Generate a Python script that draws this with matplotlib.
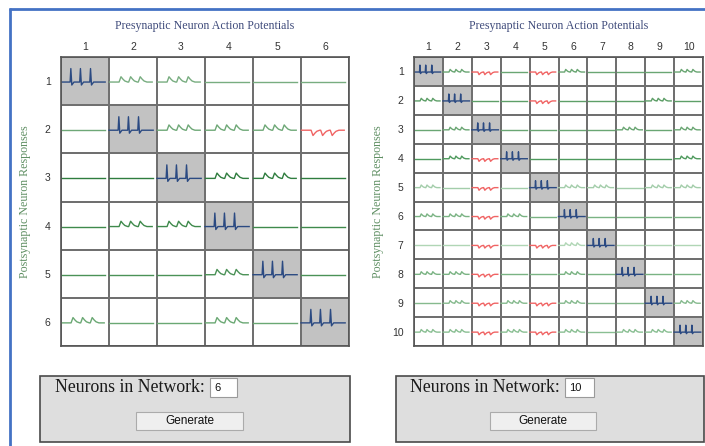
import matplotlib
matplotlib.use('Agg')
import matplotlib.pyplot as plt
from matplotlib.patches import Rectangle
from matplotlib.colors import ListedColormap
import numpy as np

# --- data: connection type per cell (row = postsynaptic, col = presynaptic) ---
# S = own action potential, E = excitatory PSP, I = inhibitory PSP, 0 = no response
NET_6 = [
    "SEE000",
    "0SEEEI",
    "00SEE0",
    "0EES00",
    "000ES0",
    "E00E0S",
]
NET_10 = [
    "SEI0IE000E",
    "ES00I000E0",
    "0ES0000E0E",
    "0EIS00000E",
    "E0I0SEE0EE",
    "EEIE0S0000",
    "00I0IES000",
    "EEI00E0S00",
    "0EIEIE00SE",
    "EEIEIE0EES",
]
ROW_GREENS_6 = ['#78ad80', '#6ea877', '#2f7d3f', '#3f8a4c', '#4b9257', '#6aa873']
ROW_GREENS_10 = ['#6aa673', '#5e9f68', '#6aa673', '#4f9a5e', '#a3cdaa',
                 '#7ab383', '#b0d6b5', '#7ab383', '#86ba8e', '#8abf93']
NEURON_COUNTS = [6, 10]

# waveform templates (x in cell widths, y relative to peak)
SPIKE_X = [0.0, 0.19, 0.205, 0.225, 0.27, 0.39, 0.405, 0.425, 0.47, 0.60, 0.615, 0.635, 0.68, 0.92]
SPIKE_Y = [0, 0, 1.0, -0.22, 0, 0, 1.0, -0.22, 0, 0, 1.0, -0.22, 0, 0]
PSP_X = [0.01, 0.21, 0.25, 0.29, 0.33, 0.39, 0.41, 0.45, 0.49, 0.53, 0.59, 0.61, 0.65, 0.69, 0.73, 0.79, 0.90]
PSP_Y = [0, 0, 1.0, 0.55, 0.2, 0, 0, 1.0, 0.55, 0.2, 0, 0, 1.0, 0.55, 0.2, 0, 0]

W, H = 705, 446
SPIKE_COLOR = '#2b4a82'
IPSP_COLOR = '#f06464'


def draw_grid(ax, net, greens, spike_amp, psp_amp):
    n = len(net)
    ax.pcolormesh(np.arange(n + 1), np.arange(n + 1), np.eye(n),
                  cmap=ListedColormap(['white', '#c2c2c2']),
                  edgecolors='#707070', linewidth=1.1)
    ax.set_xlim(0, n)
    ax.set_ylim(n, 0)
    sx = np.array(SPIKE_X)
    sy = np.array(SPIKE_Y)
    px = np.array(PSP_X)
    py = np.array(PSP_Y)
    for r, row in enumerate(net):
        mid = r + 0.52
        for c, kind in enumerate(row):
            if kind == 'S':
                ax.plot(c + sx, mid - spike_amp * sy, color=SPIKE_COLOR, lw=1.0)
            elif kind == 'E':
                ax.plot(c + px, mid - psp_amp * py, color=greens[r], lw=1.0)
            elif kind == 'I':
                ax.plot(c + px, mid + psp_amp * py, color=IPSP_COLOR, lw=1.0)
            else:
                ax.plot(c + np.array([0.01, 0.91]), [mid, mid], color=greens[r], lw=1.0)
    ticks = np.arange(n) + 0.5
    labels = [str(i + 1) for i in range(n)]
    ax.set_xticks(ticks, labels)
    ax.set_yticks(ticks, labels)
    ax.xaxis.tick_top()
    ax.tick_params(axis='x', length=0, pad=3.5, labelsize=7.5, labelcolor='#333333')
    ax.tick_params(axis='y', length=0, pad=7.5, labelsize=7.5, labelcolor='#333333')
    for lab in ax.get_xticklabels() + ax.get_yticklabels():
        lab.set_family('Liberation Sans')
    for sp in ax.spines.values():
        sp.set_color('#555555')
        sp.set_linewidth(1.2)
    ax.set_ylabel('Postsynaptic Neuron Responses', family='Liberation Serif',
                  fontsize=8.6, color='#5f8f63')
    ax.yaxis.set_label_coords(-0.104, 0.5)


def fig_box(x0, y0, x1, y1):
    return [x0 / W, 1 - y1 / H, (x1 - x0) / W, (y1 - y0) / H]


fig = plt.figure(figsize=(W / 100, H / 100), dpi=100)
fig.patch.set_facecolor('white')

# overlay in pixel coordinates for the page decoration and the controls
ov = fig.add_axes([0, 0, 1, 1])
ov.set_xlim(0, W)
ov.set_ylim(H, 0)
ov.axis('off')
ov.plot([9, W], [9, 9], color='#4472c4', lw=2.0, solid_capstyle='butt')
ov.plot([10, 10], [8, H], color='#4472c4', lw=2.0, solid_capstyle='butt')

grids = [
    (NET_6, ROW_GREENS_6, fig_box(61, 57, 349, 346), 0.28, 0.11),
    (NET_10, ROW_GREENS_10, fig_box(414, 57, 703, 346), 0.24, 0.09),
]
for net, greens, box, s_amp, p_amp in grids:
    ax = fig.add_axes(box)
    draw_grid(ax, net, greens, s_amp, p_amp)
    fig.text(box[0] + box[2] / 2, 1 - 26 / H, 'Presynaptic Neuron Action Potentials',
             ha='center', va='center', family='Liberation Serif', fontsize=8.6,
             color='#3f4b7b')

# control panels: (panel x0, x1, text x, input x0, x1, button x0, x1)
panels = [
    (40, 350, 55, 210, 237, 136, 243),
    (396, 704, 410, 565, 594, 490, 596),
]
for (x0, x1, tx, ix0, ix1, bx0, bx1), count in zip(panels, NEURON_COUNTS):
    ov.add_patch(Rectangle((x0, 376), x1 - x0, 66, facecolor='#dedede',
                           edgecolor='#4a4a4a', lw=1.2))
    ov.text(tx, 387, 'Neurons in Network:', family='Liberation Serif', fontsize=12.8,
            color='#1a1a1a', ha='left', va='center')
    ov.add_patch(Rectangle((ix0, 378), ix1 - ix0, 19, facecolor='white',
                           edgecolor='#9a9a9a', lw=0.8))
    ov.text(ix0 + 4, 388, str(count), family='Liberation Sans', fontsize=8,
            color='#111111', ha='left', va='center')
    ov.add_patch(Rectangle((bx0, 412), bx1 - bx0, 18, facecolor='#efefef',
                           edgecolor='#ababab', lw=0.8))
    ov.text((bx0 + bx1) / 2, 421, 'Generate', family='Liberation Sans', fontsize=8.5,
            color='#111111', ha='center', va='center')

fig.savefig('out.png', dpi=100)
